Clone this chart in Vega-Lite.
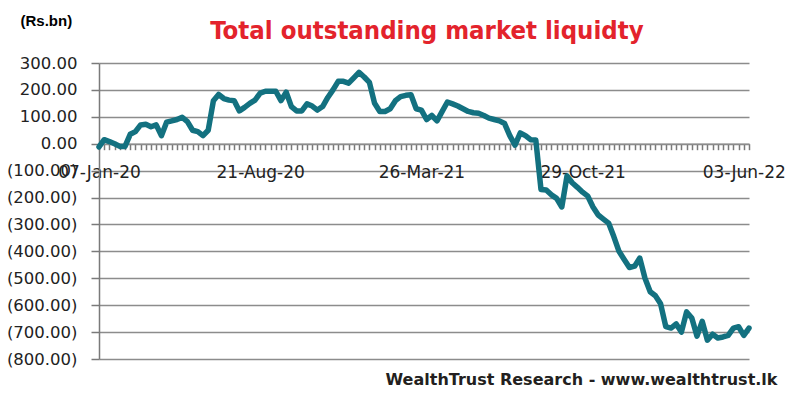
{
  "$schema": "https://vega.github.io/schema/vega-lite/v6.json",
  "width": 650,
  "height": 296,
  "autosize": {"type": "none"},
  "padding": {"left": 99, "top": 63, "right": 51, "bottom": 34},
  "background": "white",
  "title": {
    "text": "Total outstanding market liquidty",
    "font": "DejaVu Sans Condensed, DejaVu Sans, sans-serif",
    "fontWeight": "bold",
    "fontSize": 25.5,
    "color": "#e3232c",
    "anchor": "middle",
    "frame": "group",
    "offset": -31,
    "dx": 3
  },
  "data": {
    "values": [
      {"d": "07-Jan-20", "v": -12}, {"d": "17-Jan-20", "v": 15}, {"d": "24-Jan-20", "v": 8}, {"d": "31-Jan-20", "v": 0},
      {"d": "07-Feb-20", "v": -10}, {"d": "14-Feb-20", "v": -10}, {"d": "21-Feb-20", "v": 35}, {"d": "28-Feb-20", "v": 45},
      {"d": "06-Mar-20", "v": 70}, {"d": "13-Mar-20", "v": 72}, {"d": "20-Mar-20", "v": 63}, {"d": "27-Mar-20", "v": 70},
      {"d": "03-Apr-20", "v": 30}, {"d": "17-Apr-20", "v": 80}, {"d": "24-Apr-20", "v": 85}, {"d": "01-May-20", "v": 90},
      {"d": "08-May-20", "v": 98}, {"d": "15-May-20", "v": 82}, {"d": "22-May-20", "v": 50}, {"d": "29-May-20", "v": 45},
      {"d": "05-Jun-20", "v": 30}, {"d": "12-Jun-20", "v": 50}, {"d": "19-Jun-20", "v": 160}, {"d": "26-Jun-20", "v": 183},
      {"d": "03-Jul-20", "v": 168}, {"d": "10-Jul-20", "v": 162}, {"d": "17-Jul-20", "v": 160}, {"d": "24-Jul-20", "v": 122},
      {"d": "31-Jul-20", "v": 135}, {"d": "07-Aug-20", "v": 150}, {"d": "14-Aug-20", "v": 162}, {"d": "21-Aug-20", "v": 188},
      {"d": "28-Aug-20", "v": 195}, {"d": "04-Sep-20", "v": 195}, {"d": "11-Sep-20", "v": 195}, {"d": "18-Sep-20", "v": 160},
      {"d": "25-Sep-20", "v": 192}, {"d": "02-Oct-20", "v": 138}, {"d": "09-Oct-20", "v": 122}, {"d": "16-Oct-20", "v": 122},
      {"d": "23-Oct-20", "v": 148}, {"d": "30-Oct-20", "v": 140}, {"d": "06-Nov-20", "v": 125}, {"d": "13-Nov-20", "v": 138},
      {"d": "20-Nov-20", "v": 172}, {"d": "27-Nov-20", "v": 200}, {"d": "04-Dec-20", "v": 232}, {"d": "11-Dec-20", "v": 232},
      {"d": "18-Dec-20", "v": 225}, {"d": "25-Dec-20", "v": 245}, {"d": "01-Jan-21", "v": 265}, {"d": "08-Jan-21", "v": 248},
      {"d": "15-Jan-21", "v": 228}, {"d": "22-Jan-21", "v": 150}, {"d": "29-Jan-21", "v": 120}, {"d": "05-Feb-21", "v": 120},
      {"d": "12-Feb-21", "v": 130}, {"d": "19-Feb-21", "v": 160}, {"d": "26-Feb-21", "v": 175}, {"d": "05-Mar-21", "v": 180},
      {"d": "12-Mar-21", "v": 182}, {"d": "19-Mar-21", "v": 130}, {"d": "26-Mar-21", "v": 125}, {"d": "02-Apr-21", "v": 90},
      {"d": "09-Apr-21", "v": 105}, {"d": "16-Apr-21", "v": 85}, {"d": "23-Apr-21", "v": 120}, {"d": "30-Apr-21", "v": 155},
      {"d": "07-May-21", "v": 148}, {"d": "14-May-21", "v": 140}, {"d": "21-May-21", "v": 130}, {"d": "28-May-21", "v": 120},
      {"d": "04-Jun-21", "v": 115}, {"d": "11-Jun-21", "v": 113}, {"d": "18-Jun-21", "v": 105}, {"d": "25-Jun-21", "v": 95},
      {"d": "02-Jul-21", "v": 90}, {"d": "09-Jul-21", "v": 85}, {"d": "16-Jul-21", "v": 75}, {"d": "23-Jul-21", "v": 30},
      {"d": "30-Jul-21", "v": -5}, {"d": "06-Aug-21", "v": 40}, {"d": "13-Aug-21", "v": 30}, {"d": "20-Aug-21", "v": 15},
      {"d": "27-Aug-21", "v": 14}, {"d": "03-Sep-21", "v": -170}, {"d": "10-Sep-21", "v": -172}, {"d": "17-Sep-21", "v": -190},
      {"d": "24-Sep-21", "v": -203}, {"d": "01-Oct-21", "v": -235}, {"d": "08-Oct-21", "v": -120}, {"d": "15-Oct-21", "v": -145},
      {"d": "22-Oct-21", "v": -162}, {"d": "29-Oct-21", "v": -180}, {"d": "05-Nov-21", "v": -195}, {"d": "12-Nov-21", "v": -235},
      {"d": "19-Nov-21", "v": -265}, {"d": "26-Nov-21", "v": -280}, {"d": "03-Dec-21", "v": -295}, {"d": "10-Dec-21", "v": -345},
      {"d": "17-Dec-21", "v": -400}, {"d": "24-Dec-21", "v": -430}, {"d": "31-Dec-21", "v": -460}, {"d": "07-Jan-22", "v": -455},
      {"d": "14-Jan-22", "v": -425}, {"d": "21-Jan-22", "v": -500}, {"d": "28-Jan-22", "v": -550}, {"d": "04-Feb-22", "v": -565},
      {"d": "11-Feb-22", "v": -595}, {"d": "18-Feb-22", "v": -680}, {"d": "25-Feb-22", "v": -685}, {"d": "04-Mar-22", "v": -670},
      {"d": "11-Mar-22", "v": -700}, {"d": "18-Mar-22", "v": -625}, {"d": "25-Mar-22", "v": -648}, {"d": "01-Apr-22", "v": -715},
      {"d": "08-Apr-22", "v": -660}, {"d": "15-Apr-22", "v": -730}, {"d": "22-Apr-22", "v": -708}, {"d": "29-Apr-22", "v": -722},
      {"d": "06-May-22", "v": -718}, {"d": "13-May-22", "v": -712}, {"d": "20-May-22", "v": -685}, {"d": "27-May-22", "v": -680},
      {"d": "03-Jun-22", "v": -712}, {"d": "10-Jun-22", "v": -685}
    ]
  },
  "mark": {"type": "line", "color": "#137180", "strokeWidth": 5.5, "strokeJoin": "round", "strokeCap": "round"},
  "encoding": {
    "x": {
      "field": "d",
      "type": "ordinal",
      "sort": null,
      "scale": {"type": "point", "padding": 0},
      "axis": {
        "orient": "bottom",
        "offset": -215.3,
        "title": "WealthTrust Research - www.wealthtrust.lk",
        "titleX": 678,
        "titleY": 241,
        "titleAlign": "right",
        "titleAnchor": null,
        "titleBaseline": "alphabetic",
        "titleFont": "DejaVu Sans",
        "titleFontSize": 16,
        "titleFontWeight": "bold",
        "titleColor": "#231f20",
        "labelExpr": "indexof(['07-Jan-20','21-Aug-20','26-Mar-21','29-Oct-21','03-Jun-22'], datum.value) >= 0 ? datum.value : ''",
        "labelAngle": 0,
        "labelFont": "DejaVu Sans",
        "labelFontSize": 17,
        "labelColor": "#222222",
        "labelPadding": 15,
        "labelOverlap": false,
        "labelFlush": false,
        "tickSize": 6,
        "tickColor": "#7a7a7a",
        "tickWidth": 1.5,
        "domainColor": "#8c8c8c",
        "domainWidth": 1.5,
        "grid": false
      }
    },
    "y": {
      "field": "v",
      "type": "quantitative",
      "scale": {"domain": [-800, 300], "nice": false, "zero": false},
      "axis": {
        "values": [-800, -700, -600, -500, -400, -300, -200, -100, 0, 100, 200, 300],
        "labelExpr": "datum.value < 0 ? '(' + format(-datum.value, '.2f') + ')' : format(datum.value, '.2f') + '\u2009'",
        "labelFont": "DejaVu Sans",
        "labelFontSize": 16.5,
        "labelColor": "#222222",
        "labelPadding": 14,
        "tickSize": 8,
        "tickColor": "#7a7a7a",
        "tickWidth": 1.5,
        "domainColor": "#7a7a7a",
        "domainWidth": 1.5,
        "grid": true,
        "gridColor": "#8c8c8c",
        "gridWidth": 1.5,
        "title": "(Rs.bn)",
        "titleAngle": 0,
        "titleX": -79,
        "titleY": -38,
        "titleAlign": "left",
        "titleBaseline": "alphabetic",
        "titleFont": "Liberation Sans",
        "titleFontWeight": "bold",
        "titleFontSize": 15,
        "titleColor": "#000000"
      }
    }
  },
  "config": {"view": {"stroke": null}}
}
